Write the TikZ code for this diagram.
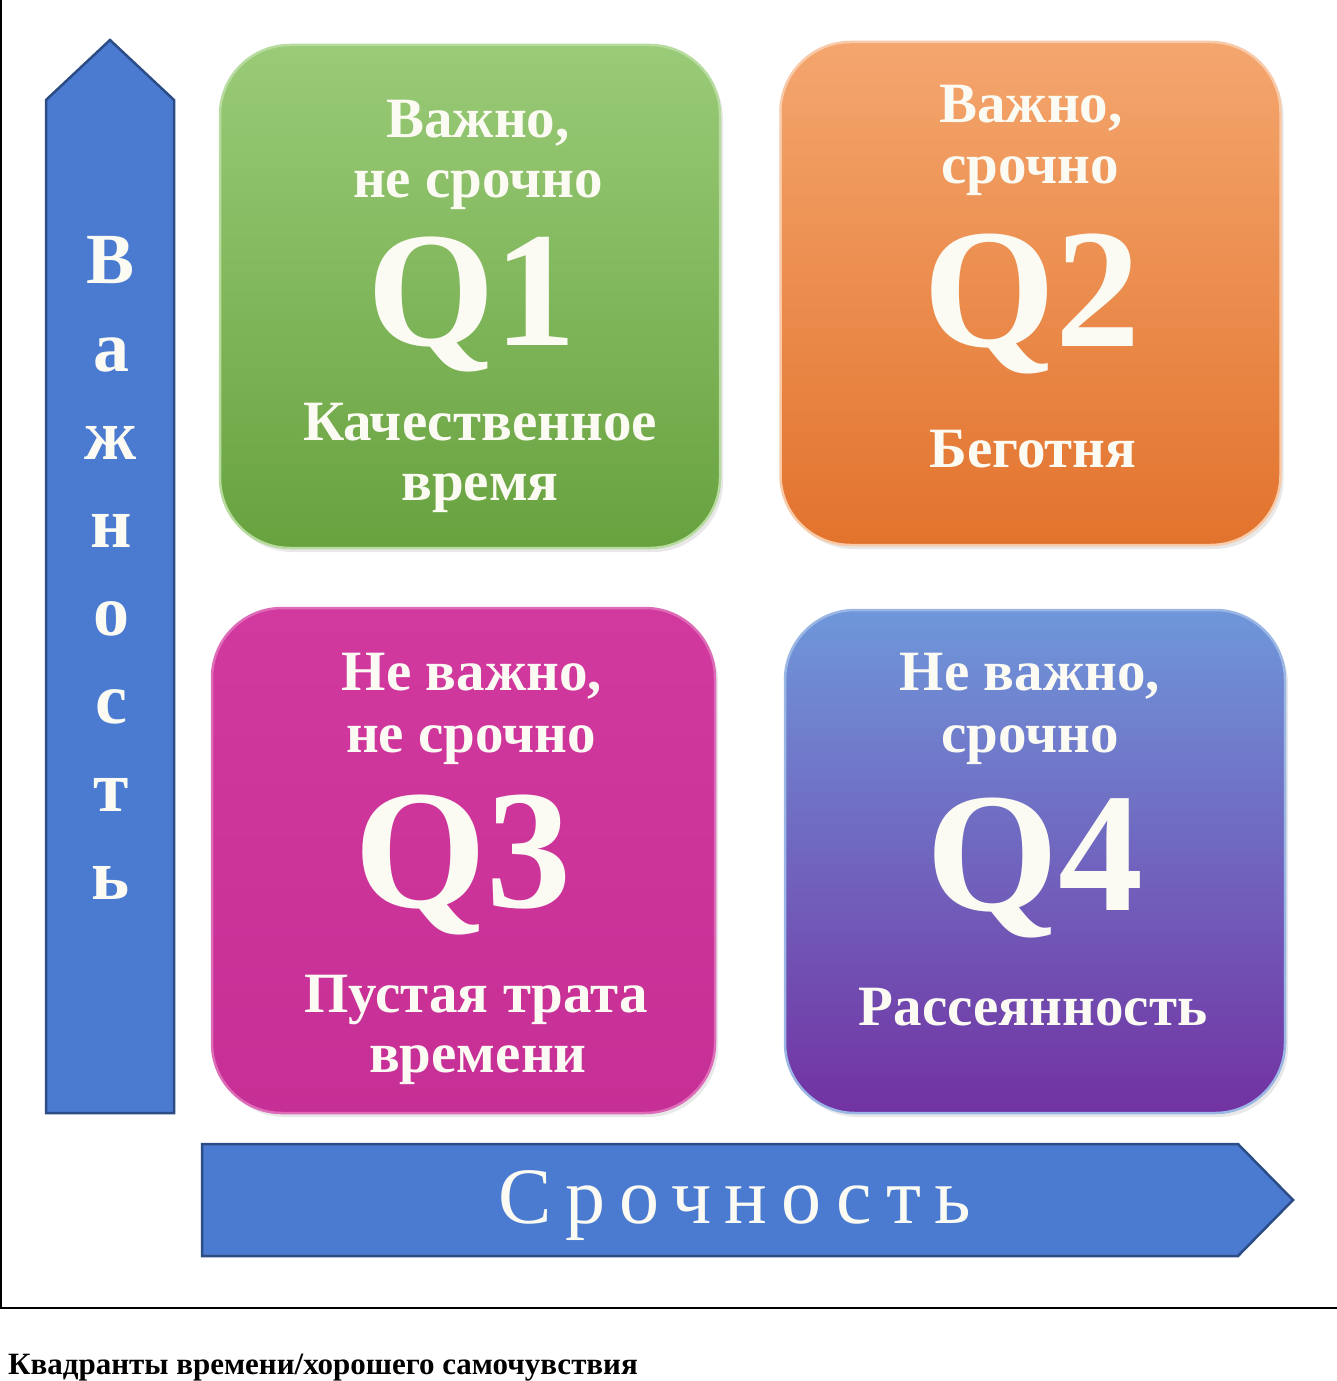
\documentclass[tikz,border=0pt]{standalone}
\usepackage{fontspec}
\setmainfont{Liberation Serif}
\usetikzlibrary{shadows}
\definecolor{arrowfill}{HTML}{4A7BD0}
\definecolor{arrowedge}{HTML}{2C4C86}
\definecolor{gtop}{HTML}{9ACB78}
\definecolor{gbot}{HTML}{68A23F}
\definecolor{otop}{HTML}{F4A66E}
\definecolor{obot}{HTML}{E2732D}
\definecolor{mtop}{HTML}{D2399F}
\definecolor{mbot}{HTML}{C62F95}
\definecolor{btop}{HTML}{6F97DA}
\definecolor{bmid}{HTML}{4A6EC2}
\definecolor{bbot}{HTML}{7232A2}
\definecolor{txt}{HTML}{FBFBF3}
\tikzset{
  quad/.style={rounded corners=70pt, minimum width=500pt, minimum height=503pt,
    inner sep=0pt, line width=2.5pt,
    drop shadow={opacity=0.18, shadow xshift=3pt, shadow yshift=-4pt}},
  lbl/.style={anchor=base, text=txt, inner sep=0pt,
    font=\bfseries\fontsize{57}{62}\selectfont},
  qbig/.style={anchor=base, text=txt, inner sep=0pt,
    font=\bfseries\fontsize{170}{175}\selectfont},
  axisarrow/.style={fill=arrowfill, draw=arrowedge, line width=2.5pt, line join=miter}
}
\begin{document}
\begin{tikzpicture}[x=1pt,y=-1pt]
\useasboundingbox (0,0) rectangle (1337,1381);
\fill[white] (0,0) rectangle (1337,1381);
% frame
\draw[line width=2pt] (1,0) -- (1,1308) -- (1337,1308);

% axes arrows
\draw[axisarrow] (46,1113) -- (46,100) -- (110,40) -- (174,100) -- (174,1113) -- cycle;
\draw[axisarrow] (202,1144) -- (1238,1144) -- (1293,1200) -- (1238,1256) -- (202,1256) -- cycle;

\node[text=txt, align=center, inner sep=0pt, font=\bfseries\fontsize{72}{88}\selectfont] (vimp) at (111,568)
  {В\\а\\ж\\н\\о\\с\\т\\ь};
\node[text=txt, inner sep=0pt, font=\addfontfeature{LetterSpace=17}\fontsize{80}{80}\selectfont] (vurg) at (735,1206) {Срочность};

% quadrants
\node[quad, top color=gtop, bottom color=gbot, draw=gtop!70!white] (q1) at (470,296.5) {};
\node[quad, top color=otop, bottom color=obot, draw=otop!60!white] (q2) at (1030.5,293.5) {};
\node[quad, top color=mtop, bottom color=mbot, draw=mtop!75!white, minimum width=503pt, minimum height=505pt] (q3) at (463.5,860.5) {};
\node[quad, top color=btop, middle color=bmid, bottom color=bbot, draw=btop!70!white] (q4) at (1035,861.5) {};

% Q1 texts
\node[lbl] (q1a) at (478,137) {Важно,};
\node[lbl] (q1b) at (478,197) {не срочно};
\node[qbig, font=\bfseries\fontsize{164}{170}\selectfont] (q1c) at (472,345) {Q1};
\node[lbl] (q1d) at (480,440) {Качественное};
\node[lbl] (q1e) at (480,500) {время};

% Q2 texts
\node[lbl] (q2a) at (1031,122) {Важно,};
\node[lbl] (q2b) at (1030,183) {срочно};
\node[qbig] (q2c) at (1032,346) {Q2};
\node[lbl] (q2d) at (1033,467) {Беготня};

% Q3 texts
\node[lbl] (q3a) at (472,690) {Не важно,};
\node[lbl] (q3b) at (471,752) {не срочно};
\node[qbig] (q3c) at (463,907) {Q3};
\node[lbl] (q3d) at (476,1012) {Пустая трата};
\node[lbl] (q3e) at (478,1072) {времени};

% Q4 texts
\node[lbl] (q4a) at (1030,690) {Не важно,};
\node[lbl] (q4b) at (1030,752) {срочно};
\node[qbig] (q4c) at (1035,910) {Q4};
\node[lbl] (q4d) at (1033,1025) {Рассеянность};

% caption
\node[anchor=base west, inner sep=0pt, font=\bfseries\fontsize{31}{33}\selectfont] (cap) at (8,1374)
  {Квадранты времени/хорошего самочувствия};
\end{tikzpicture}
\end{document}
